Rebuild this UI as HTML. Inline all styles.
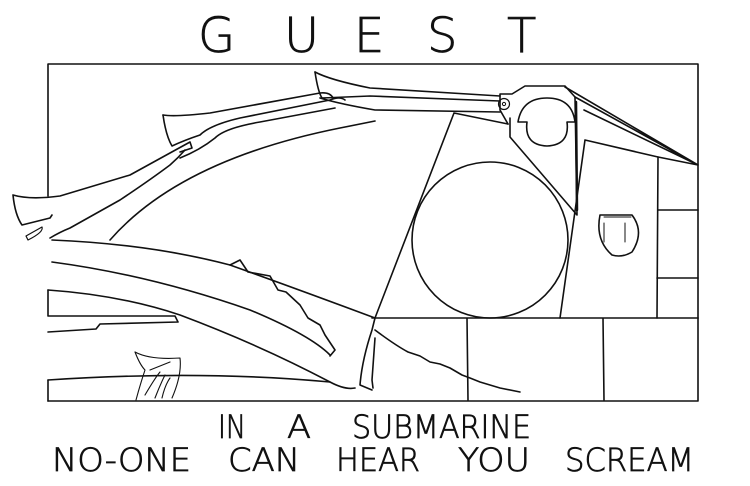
<!DOCTYPE html>
<html><head><style>
html,body{margin:0;padding:0;background:#fff;}
svg{display:block;}
text{font-family:"DejaVu Sans","Liberation Sans",sans-serif;font-weight:200;fill:#111;stroke:#111;stroke-width:0.7;}
</style></head><body>
<svg width="750" height="486" viewBox="0 0 750 486" xmlns="http://www.w3.org/2000/svg">
<g fill="none" stroke="#111" stroke-width="1.6" stroke-linejoin="round" stroke-linecap="round">
<path d="M48 64 L698 64 L698 318 M48 64 L48 196"/>
<path d="M48 401 L698 401 L698 318"/>
<path d="M48 380 L48 401"/>
<path d="M372 318 L698 318 M467 318 L468 400 M603 318 L604 400"/>
<path d="M585 140 L658 157 L657 318 M560 318 L585 140"/>
<path d="M658 210 L698 210 M657 278 L698 278"/>
<path d="M565 87 L698 165 L658 157 M575 97 L698 165 M584 110 L698 165"/>
<path d="M600 215 Q595 240 612 255 Q622 258 632 252 Q645 232 632 215 Z"/>
<path d="M604 215 L631 215 M604 217 L631 217 M604 223 L604 242 M625 223 L625 242" stroke-width="1"/>
<path d="M454 113 L508 124 M454 113 L375 318"/>
<circle cx="490" cy="240" r="78"/>
<path d="M508 124 L500 110 L500 94 L512 94 L525 86 L565 86 L575 97 L577 215 L510 137 L510 118"/>
<path d="M576 102 L577 210" stroke-width="2.5"/>
<path d="M518 122 Q522 98 547 98 Q572 98 575 122 L567 122 Q570 145 547 146 Q524 145 527 122 Z"/>
<circle cx="504" cy="104" r="5.5" stroke-width="1.2"/>
<circle cx="504" cy="104" r="1.6" stroke-width="1"/>
<path d="M315 72 Q318 92 322 98 L370 96 L500 101"/>
<path d="M315 72 Q330 80 370 88 L500 96"/>
<path d="M320 98 Q340 104 375 110 L500 112"/>
<path d="M163 115 Q166 136 172 146 Q185 140 200 135 Q210 125 240 118 L330 100 Q340 96 345 100"/>
<path d="M163 115 Q175 117 210 113 L320 93 Q330 92 333 98"/>
<path d="M180 158 Q200 150 215 138 Q225 128 260 122 L335 108"/>
<path d="M110 240 Q180 160 340 128 L375 121"/>
<path d="M13 195 Q15 215 22 225 L50 218 L52 215 M13 195 Q30 200 60 196 L130 175 L190 142 L192 148 L180 152"/>
<path d="M26 236 L42 227 Q44 232 28 240 Z" stroke-width="1.2"/>
<path d="M50 238 Q60 232 70 228 L120 200 Q150 180 170 165 Q178 158 185 150"/>
<path d="M52 240 Q150 244 230 265 L240 260 L248 272 L270 276 L278 290 L286 292 L300 305 L308 318 L320 325 L325 335 L335 350 L330 356"/>
<path d="M230 265 Q300 290 375 318 L372 330 Q362 360 360 385 L372 390"/>
<path d="M52 262 Q150 275 250 310 Q310 335 330 355"/>
<path d="M48 290 Q120 295 180 315 Q260 345 330 382 Q345 390 355 388"/>
<path d="M48 290 L48 316 L175 316 L178 322 L100 324 L96 329 L48 332"/>
<path d="M375 338 L372 380 L373 388 M375 330 Q395 345 408 352 L420 356 L430 362 L440 364 L450 368 L462 375 L470 378 L480 382 L500 388 L520 392"/>
<path d="M48 380 Q200 370 330 382"/>
<path d="M135 352 Q140 365 145 370 Q140 385 136 400 M135 352 Q150 360 180 358 Q182 375 172 398 M150 370 L170 362 M145 395 Q155 378 160 372 M155 398 Q160 385 165 375 M162 398 Q165 385 170 378" stroke-width="1.1"/>
</g>
<g font-size="48">
<text x="198" y="52">G</text>
<text x="284" y="52">U</text>
<text x="354" y="52">E</text>
<text x="427" y="52">S</text>
<text x="507" y="52">T</text>
</g>
<g font-size="32">
<text x="218" y="438" textLength="28" lengthAdjust="spacingAndGlyphs">IN</text>
<text x="287" y="438" textLength="24" lengthAdjust="spacingAndGlyphs">A</text>
<text x="352" y="438" textLength="179" lengthAdjust="spacingAndGlyphs">SUBMARINE</text>
<text x="52" y="471" textLength="139" lengthAdjust="spacingAndGlyphs">NO-ONE</text>
<text x="228" y="471" textLength="72" lengthAdjust="spacingAndGlyphs">CAN</text>
<text x="336" y="471" textLength="84" lengthAdjust="spacingAndGlyphs">HEAR</text>
<text x="458" y="471" textLength="72" lengthAdjust="spacingAndGlyphs">YOU</text>
<text x="565" y="471" textLength="129" lengthAdjust="spacingAndGlyphs">SCREAM</text>
</g>
</svg>
</body></html>
